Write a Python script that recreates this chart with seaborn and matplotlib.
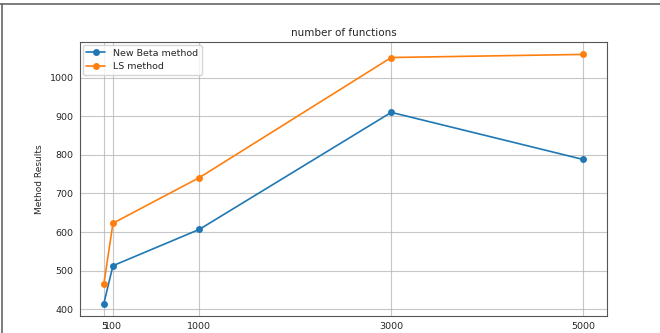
import matplotlib
matplotlib.use("Agg")
import matplotlib.pyplot as plt
import pandas as pd
import seaborn as sns
from matplotlib.lines import Line2D

# values
n_functions = [5, 100, 1000, 3000, 5000]
new_beta = [415, 513, 607, 910, 788]
ls_method = [465, 623, 741, 1052, 1060]
series_names = ["New Beta method", "LS method"]

df = pd.DataFrame({
    "n": n_functions * 2,
    "value": new_beta + ls_method,
    "method": [series_names[0]] * len(n_functions) + [series_names[1]] * len(n_functions),
})

sns.set_style("white")
plt.rcParams["font.family"] = ["DejaVu Sans"]

fig = plt.figure(figsize=(6.6, 3.33), dpi=100)
ax = fig.add_axes([0.121, 0.051, 0.799, 0.823])

sns.lineplot(data=df, x="n", y="value", hue="method", marker="o",
             markersize=5, markeredgewidth=0, linewidth=1.2,
             palette=["#1f77b4", "#ff7f0e"], ax=ax)

ax.set_xticks(n_functions)
ax.set_xticklabels([str(v) for v in n_functions])
ax.grid(True, color="#b0b0b0", linewidth=0.8, alpha=0.7)
ax.tick_params(labelsize=6.8, length=3, width=0.6, color="#444444", pad=1.5)
for s in ax.spines.values():
    s.set_color("#555555")
    s.set_linewidth(0.8)
ax.set_xlabel("")
ax.set_ylabel("Method Results", fontsize=6.5)
ax.set_title("number of functions", fontsize=7.5, pad=4)
leg = ax.legend(loc="upper left", fontsize=6.8, frameon=True, borderaxespad=0.3,
                handlelength=2.0)
leg.get_frame().set_edgecolor("#cccccc")

# dark frame on the top and left edges of the image
fig.add_artist(Line2D([0, 1], [0.988, 0.988], transform=fig.transFigure, color="#666666", linewidth=1.2))
fig.add_artist(Line2D([0.003, 0.003], [0, 0.988], transform=fig.transFigure, color="#666666", linewidth=1.2))

fig.savefig("out.png", dpi=100)
